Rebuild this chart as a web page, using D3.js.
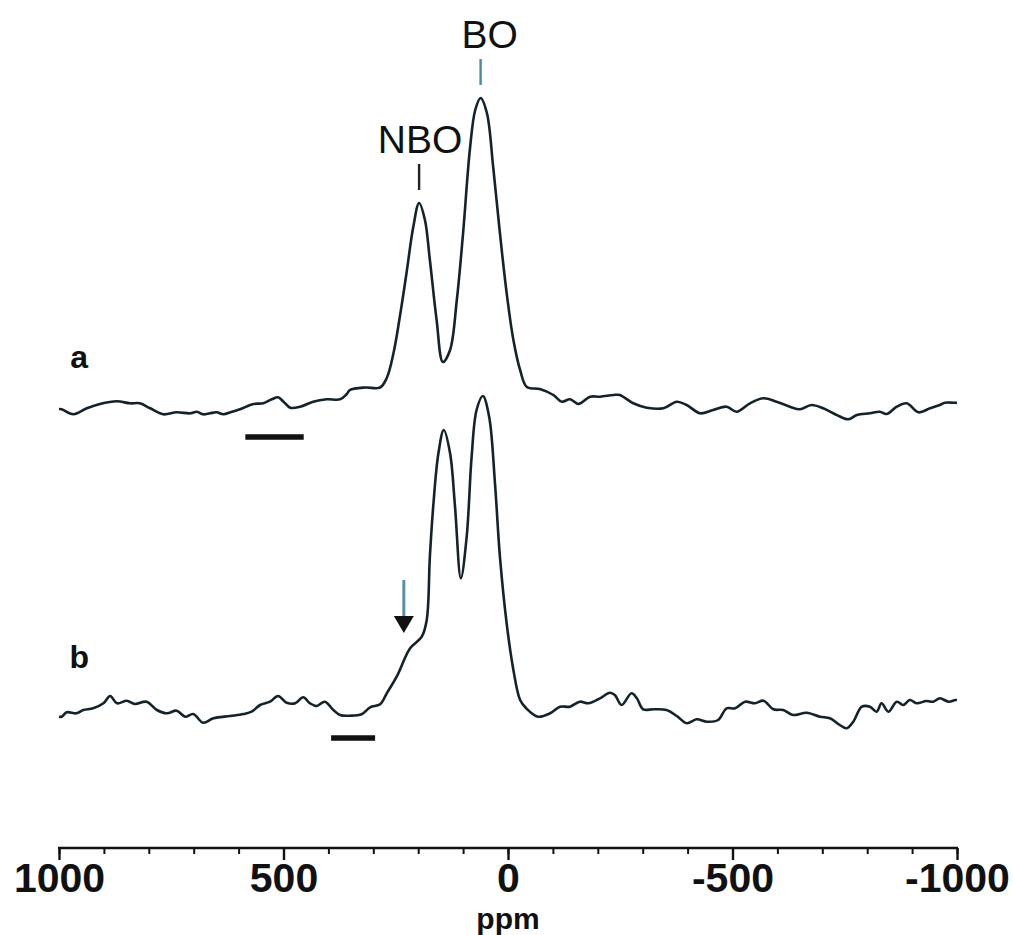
<!DOCTYPE html>
<html>
<head>
<meta charset="utf-8">
<script src="https://cdn.jsdelivr.net/npm/d3@7"></script>
<style>
  html, body { margin: 0; padding: 0; background: #fff; }
  svg { display: block; }
</style>
</head>
<body>
<svg id="chart" width="1013" height="935"></svg>
<script>
// ---- data (ppm vs. relative intensity) ----
const ppmA = [1000, 994, 968, 938, 909, 871, 842, 820, 797, 768, 738, 708, 693, 679, 664, 649, 634, 615, 597, 567, 545, 526, 512, 500, 485, 463, 434, 404, 374, 359, 352, 318, 285, 270, 255, 241, 226, 211, 198, 185, 174, 159, 145, 129, 114, 100, 85, 73, 61, 47, 33, 18, 3, -12, -27, -42, -71, -101, -120, -138, -157, -183, -205, -235, -249, -279, -309, -346, -376, -398, -428, -457, -487, -509, -539, -569, -598, -628, -650, -676, -702, -732, -758, -777, -806, -828, -843, -866, -888, -914, -940, -962, -973, -992, -1000];
const intA = [1, 0.7, -4.3, 1.7, 6, 8.7, 6.7, 6.7, 1.7, -4.3, -2.3, -3.3, -1.7, -4.3, -3.3, -2.3, -4.3, -1.7, 0.7, 6, 6.7, 10.7, 12.7, 8.3, 2.3, 3.3, 8.3, 10.7, 10.7, 16, 20, 22.5, 22.5, 32, 57, 93, 137, 183, 207, 190, 150, 90, 48, 60, 110, 177, 260, 300, 312, 297, 243, 177, 117, 70, 40, 23, 21, 15, 8.3, 10.7, 6, 13.3, 13.3, 15, 15, 6.7, 2.3, 1.7, 8.3, 5, -3.3, 0, 3.3, -1.7, 6.7, 11.7, 8.3, 3.3, 0.7, 5, 1.7, -5, -9.3, -5, -3.3, -1.7, -4, 3.3, 6.7, -2.3, 1.7, 5, 7.3, 7.3, 7.3];

const ppmB = [1000, 994, 983, 961, 946, 924, 901, 886, 871, 849, 831, 805, 782, 760, 738, 719, 701, 679, 656, 619, 589, 571, 552, 530, 512, 493, 474, 456, 441, 426, 408, 389, 374, 352, 326, 307, 285, 270, 248, 218, 192, 181, 174, 166, 155, 143, 129, 118, 105, 92, 81, 70, 56, 42, 29, 18, 3, -12, -27, -40, -67, -94, -116, -138, -160, -179, -205, -227, -238, -253, -275, -287, -301, -324, -353, -376, -398, -420, -443, -468, -487, -506, -528, -550, -569, -591, -613, -635, -665, -695, -717, -739, -754, -769, -788, -806, -821, -832, -847, -866, -880, -895, -910, -932, -947, -962, -981, -996, -1000];
const intB = [-6.7, -6.7, -2.3, -3.3, 0, 1.7, 6.7, 14, 6.7, 9.3, 6, 8.3, 0, -3.3, -0.7, -6.7, -4, -12.7, -8.3, -6, -4, -1.7, 5, 8.3, 14, 7.3, 6.7, 12.7, 6.7, 4, 8.3, 0, -5, -5.7, -4.3, 2.7, 5.7, 16.7, 33.3, 61.7, 73.3, 90, 153.3, 206.7, 256.7, 280, 256.7, 203.3, 131.7, 173.3, 253.3, 300, 314, 293.3, 226.7, 153.3, 86.7, 40, 10, 2, -6.7, -3.3, 3.3, 3.3, 8.3, 6.7, 11.7, 17.3, 15, 5, 16.7, 11.7, 0.7, 0.7, 0, -6, -13.3, -9.3, -11.7, -10, 1.7, 1.7, 8.3, 6.7, 9.3, 0.7, 0, -5, -2.7, -6.7, -8.3, -15, -18.3, -11.7, 3.3, 3.3, -1.7, 6.7, -1.7, 8.3, 5, 10, 6.7, 9, 8.3, 11.7, 8.3, 10, 10];

const traceNames = ["a", "b"];
const traceOffsets = [460, 160];   // vertical stacking offsets (intensity units)

const majorTicks = [1000, 500, 0, -500, -1000];
const majorTickLabels = ["1000", "500", "0", "-500", "-1000"];
const minorTicks = d3.range(1000, -1001, -100);
const xLabel = "ppm";

const peakLabels = ["NBO", "BO"];
const peakPpm = [198, 61];

const barA = [585, 455];   // ppm range of horizontal bar under trace a
const barB = [394, 296];   // ppm range under trace b
const arrowPpm = 232;      // shoulder marker on trace b

// ---- scales ----
const svg = d3.select("#chart");
const x = d3.scaleLinear().domain([1000, -1000]).range([59, 957]);
const y = d3.scaleLinear().domain([0, 870]).range([870, 0]);

const traceColor = "#14232a";
const font = "Liberation Sans, Arial, sans-serif";

const line = d3.line()
  .x(d => x(d[0]))
  .y(d => y(d[1]))
  .curve(d3.curveCatmullRom.alpha(0.5));

const dataA = ppmA.map((p, i) => [p, intA[i] + traceOffsets[0]]);
const dataB = ppmB.map((p, i) => [p, intB[i] + traceOffsets[1]]);

[dataA, dataB].forEach(d => {
  svg.append("path")
    .datum(d)
    .attr("d", line)
    .attr("fill", "none")
    .attr("stroke", traceColor)
    .attr("stroke-width", 2.6)
    .attr("stroke-linejoin", "round");
});

// ---- x axis ----
const axisY = 848;
const axisG = svg.append("g").attr("transform", `translate(0,${axisY})`);
axisG.call(d3.axisBottom(x).tickValues(minorTicks).tickSize(6).tickFormat(""))
  .call(g => g.select(".domain").remove())
  .call(g => g.selectAll(".tick line").attr("stroke", "#111").attr("stroke-width", 2));
axisG.append("g")
  .call(d3.axisBottom(x).tickValues(majorTicks).tickSize(12).tickPadding(7)
        .tickFormat((d, i) => majorTickLabels[i]))
  .call(g => g.select(".domain").remove())
  .call(g => g.selectAll(".tick line").attr("stroke", "#111").attr("stroke-width", 2.4))
  .call(g => g.selectAll(".tick text")
      .attr("font-family", font)
      .attr("font-weight", "bold")
      .attr("font-size", 41)
      .attr("fill", "#111")
      .attr("dy", "0.6em"));
axisG.append("line")
  .attr("x1", x(1000) - 1).attr("x2", x(-1000) + 1)
  .attr("y1", 0).attr("y2", 0)
  .attr("stroke", "#111").attr("stroke-width", 2.6);

svg.append("text")
  .attr("x", x(0)).attr("y", 929)
  .attr("text-anchor", "middle")
  .attr("font-family", font)
  .attr("font-weight", "bold")
  .attr("font-size", 30)
  .attr("fill", "#111")
  .text(xLabel);

// ---- trace labels ----
traceNames.forEach((n, i) => {
  svg.append("text")
    .attr("x", x(955)).attr("y", y(traceOffsets[i] + 42))
    .attr("text-anchor", "middle")
    .attr("font-family", font)
    .attr("font-weight", "bold")
    .attr("font-size", 32)
    .attr("fill", "#111")
    .text(n);
});

// ---- peak labels ----
const peakTop = [traceOffsets[0] + 207, traceOffsets[0] + 312];
peakLabels.forEach((lab, i) => {
  const px = x(peakPpm[i]);
  const yTick0 = y(peakTop[i] + 13);
  svg.append("line")
    .attr("x1", px).attr("x2", px)
    .attr("y1", yTick0).attr("y2", yTick0 - 26)
    .attr("stroke", i === 1 ? "#4a8ba3" : "#222")
    .attr("stroke-width", 2.4);
  svg.append("text")
    .attr("x", px + (i === 1 ? 9 : 1)).attr("y", yTick0 - 37)
    .attr("text-anchor", "middle")
    .attr("font-family", font)
    .attr("font-size", 39)
    .attr("fill", "#111")
    .text(lab);
});

// ---- bars ----
[[barA, traceOffsets[0] - 27], [barB, traceOffsets[1] - 28]].forEach(([b, iy]) => {
  svg.append("line")
    .attr("x1", x(b[0])).attr("x2", x(b[1]))
    .attr("y1", y(iy)).attr("y2", y(iy))
    .attr("stroke", "#111").attr("stroke-width", 5.5);
});

// ---- arrow ----
const ax = x(arrowPpm);
const aTip = y(traceOffsets[1] + 77);
const aTop = y(traceOffsets[1] + 130);
svg.append("line")
  .attr("x1", ax).attr("x2", ax)
  .attr("y1", aTop).attr("y2", aTip - 12)
  .attr("stroke", "#5b8fa3").attr("stroke-width", 3);
svg.append("path")
  .attr("d", `M${ax - 10},${aTip - 17} L${ax + 10},${aTip - 17} L${ax},${aTip} Z`)
  .attr("fill", "#111");
</script>
</body>
</html>
